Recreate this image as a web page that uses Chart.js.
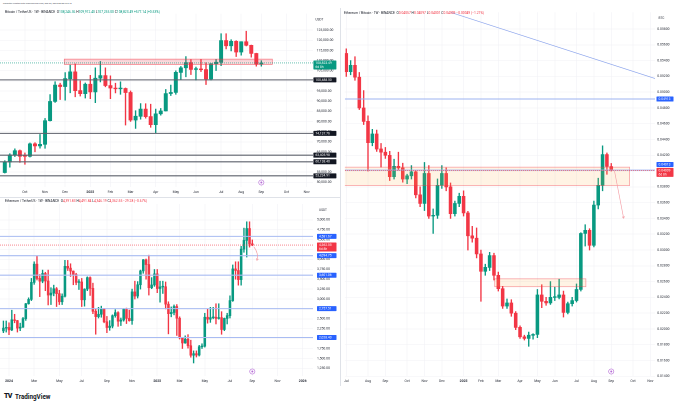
<!DOCTYPE html>
<html>
<head>
<meta charset="utf-8">
<script src="https://cdn.jsdelivr.net/npm/chart.js@4.4.1/dist/chart.umd.min.js"></script>
<style>
  body { margin: 0; width: 680px; height: 406px; overflow: hidden; position: relative; background: #fff; font-family: Roboto, "Liberation Sans", sans-serif; }
  canvas { position: absolute; }
  .t { position: absolute; white-space: nowrap; color: #131722; line-height: 1; }
  .g { color: #089981; }
  .r { color: #f23645; }
  .sep { position: absolute; background: #dfe2e8; }
</style>
</head>
<body>
<div class="t" style="left:3px;top:2.6px;font-size:2.3px;color:#4a4e59">Calighter created with TradingView.com, Sep 02, 2025 00:00 UTC+8</div>

<canvas id="btc" width="340" height="189" style="left:0;top:8px;width:340px;height:189px"></canvas>
<canvas id="eth" width="340" height="188" style="left:0;top:198px;width:340px;height:188px"></canvas>
<canvas id="ethbtc" width="339" height="378" style="left:341px;top:8px;width:339px;height:378px"></canvas>

<div class="sep" style="left:340px;top:8px;width:1px;height:378px"></div>
<div class="sep" style="left:0;top:197px;width:340px;height:1px"></div>

<div class="t" style="left:5px;top:11.4px;font-size:3.3px">Bitcoin / TetherUS · 1W · BINANCE &nbsp;O<span class="g">108,246.36</span> H<span class="g">109,912.40</span> L<span class="g">107,255.00</span> C<span class="g">108,823.49</span> <span class="g">+577.14 (+0.53%)</span></div>
<div class="t" style="left:5px;top:200.4px;font-size:3.3px">Ethereum / TetherUS · 1W · BINANCE &nbsp;O<span class="r">4,391.83</span> H<span class="r">4,491.84</span> L<span class="r">4,346.19</span> C<span class="r">4,362.55</span> <span class="r">−29.28 (−0.67%)</span></div>
<div class="t" style="left:344px;top:11.6px;font-size:3.3px">Ethereum / Bitcoin · 1W · BINANCE &nbsp;O<span class="r">0.04057</span> H<span class="r">0.04097</span> L<span class="r">0.04001</span> C<span class="r">0.04009</span> <span class="r">−0.00049 (−1.21%)</span></div>

<div class="t" style="left:4px;top:393px;font-size:7px;font-weight:900;letter-spacing:-0.6px">TV</div>
<div class="t" style="left:15px;top:393.5px;font-size:6.3px;font-weight:700">TradingView</div>

<script>
// ---- Bitcoin / TetherUS, weekly bars from 2024-09-09 ----
const btcStart = '2024-09-09';
const btcOpen  = [54840,59990,63580,65630,62860,62850,68970,67970,68740,80370,89850,97900,97180,101110,104460,95190,93720,98360,94540,101330,102620,97700,96460,96100,96260,94270,80730,82580,86080,82390,78430,83760,85170,93750,94280,104180,106450,109000,105640,105730,105540,100960,108380,109200,119840,117270,119450,114200,119290,117490,113490,108246.36];
const btcHigh  = [60670,64130,66500,66000,64480,69400,69520,73620,81500,93260,99590,98870,104090,107800,108350,99960,98980,102720,106420,109590,106450,102500,98830,99500,96500,95000,85310,88800,88750,88500,86100,86430,95760,97900,104970,107100,111980,110420,106800,110530,108950,108530,110530,123220,123240,120250,119790,119310,124470,117630,113640,109912.40];
const btcLow   = [54600,57490,62700,59830,58900,62460,65050,66850,66800,80220,89380,90790,90500,94150,92180,92500,91530,91200,89260,99500,97100,91230,94090,93390,78260,80000,76560,81140,81640,77150,74510,83100,85140,92800,93380,100720,102000,103100,100370,104600,98200,100360,105100,107500,115740,114720,112000,112650,117180,111680,107260,107255];
const btcClose = [59990,63580,65630,62860,62850,68970,67970,68740,80370,89850,97900,97180,101110,104460,95190,93720,98360,94540,101330,102620,97700,96460,96100,96260,94270,80730,82580,86080,82390,78430,83760,85170,93750,94280,104180,106450,109000,105640,105730,105540,100960,108380,109200,119840,117270,119450,114200,119290,117490,113490,108250,108823.49];
const btcPriceTicks = [50000,55000,60000,65000,70000,75000,80000,85000,90000,95000,100000,105000,110000,115000,120000,125000];
const btcLevels = [100488.50, 74137.76, 63405.98, 60138.40, 53234.91];

// ---- Ethereum / TetherUS, weekly bars from 2023-12-18 ----
const ethStart = '2023-12-18';
const ethOpen  = [2195,2265,2281,2220,2475,2455,2265,2290,2505,2880,2990,3420,3880,3520,3450,3645,3455,3100,3150,3260,3135,2930,3070,3825,3780,3705,3620,3420,3430,2980,3250,3540,3270,2690,2555,2615,2750,2425,2280,2315,2580,2655,2440,2470,2745,2510,2455,3180,3075,3360,3710,3990,3870,3285,3355,3635,3265,3305,3310,2870,2630,2660,2810,2515,2020,1890,1985,1820,1580,1620,1585,1795,1810,2540,2490,2530,2540,2510,2530,2230,2510,2580,2960,3760,3720,3490,4260,4480,4780,4391.83];
const ethHigh  = [2445,2445,2400,2717,2614,2460,2390,2535,2890,3030,3520,3940,4093,3620,3730,3675,3730,3285,3350,3290,3220,3130,3977,3975,3890,3710,3650,3490,3520,3260,3560,3560,3400,2750,2790,2820,2765,2560,2455,2600,2730,2680,2520,2760,2770,2720,3250,3450,3440,3730,4000,4010,4107,3540,3745,3745,3450,3450,3430,2930,2800,2850,2860,2550,2030,2070,2100,1960,1690,1690,1830,1870,2640,2740,2790,2790,2880,2880,2680,2520,2640,3080,3860,3940,3940,4330,4790,4950,4950,4491.84];
const ethLow   = [2150,2165,2100,2200,2400,2165,2200,2280,2460,2870,2960,3370,3480,3060,3410,3210,2850,2860,3080,2810,2860,2860,3050,3720,3570,3360,3360,3240,2810,2820,3210,3090,2630,2111,2520,2540,2400,2150,2210,2270,2540,2310,2330,2440,2380,2440,2360,3000,3025,3250,3650,3500,3100,3260,3320,3160,2920,3140,2750,2120,2550,2600,2080,1990,1750,1880,1760,1530,1385,1535,1560,1750,1785,2390,2410,2500,2370,2490,2110,2200,2370,2520,2940,3500,3350,3350,4180,4060,4310,4346.19];
const ethClose = [2265,2281,2220,2475,2455,2265,2290,2505,2880,2990,3420,3880,3520,3450,3645,3455,3100,3150,3260,3135,2930,3070,3825,3780,3705,3620,3420,3430,2980,3250,3540,3270,2690,2555,2615,2750,2425,2280,2315,2580,2655,2440,2470,2745,2510,2455,3180,3075,3360,3710,3990,3870,3285,3355,3635,3265,3305,3310,2870,2630,2660,2810,2515,2020,1890,1985,1820,1580,1620,1585,1795,1810,2540,2490,2530,2540,2510,2530,2230,2510,2580,2960,3760,3720,3490,4260,4480,4780,4392,4362.55];
const ethPriceTicks = [1250,1500,1750,2000,2250,2500,2750,3000,3250,3500,3750,4000,4250,4500,4750,5000];
const ethLevels = [4581.67, 4094.75, 3601.06, 2757.51, 2028.40];

// ---- Ethereum / Bitcoin, weekly bars from 2024-07-01 ----
const ratioStart = '2024-07-01';
const ratioOpen  = [0.0549,0.0526,0.0534,0.0519,0.0480,0.0463,0.0436,0.0447,0.0428,0.0424,0.0420,0.0393,0.0406,0.0404,0.0390,0.0394,0.0399,0.0370,0.0359,0.0397,0.0343,0.0344,0.0382,0.0397,0.0380,0.0346,0.0359,0.0368,0.0347,0.0318,0.0315,0.0295,0.0273,0.0278,0.0293,0.0268,0.0251,0.0229,0.0233,0.0220,0.0202,0.0190,0.0188,0.0192,0.0193,0.0243,0.0235,0.0233,0.0240,0.0240,0.0243,0.0221,0.0232,0.0236,0.0250,0.0321,0.0325,0.0306,0.0357,0.0382,0.0421,0.04057];
const ratioHigh  = [0.0555,0.0540,0.0545,0.0525,0.0502,0.0470,0.0453,0.0452,0.0435,0.0430,0.0425,0.0415,0.0424,0.0410,0.0396,0.0407,0.0400,0.0380,0.0411,0.0407,0.0352,0.0390,0.0407,0.0404,0.0385,0.0362,0.0372,0.0375,0.0349,0.0330,0.0328,0.0300,0.0282,0.0297,0.0296,0.0272,0.0254,0.0238,0.0237,0.0222,0.0204,0.0192,0.0196,0.0194,0.0250,0.0256,0.0240,0.0260,0.0253,0.0263,0.0248,0.0234,0.0240,0.0257,0.0322,0.0332,0.0327,0.0362,0.0391,0.0432,0.0423,0.04097];
const ratioLow   = [0.0520,0.0522,0.0515,0.0478,0.0459,0.0400,0.0432,0.0425,0.0405,0.0416,0.0388,0.0390,0.0401,0.0386,0.0384,0.0390,0.0366,0.0355,0.0350,0.0340,0.0321,0.0340,0.0378,0.0375,0.0340,0.0343,0.0355,0.0343,0.0300,0.0310,0.0290,0.0235,0.0268,0.0274,0.0262,0.0248,0.0226,0.0226,0.0216,0.0199,0.0188,0.0186,0.0178,0.0187,0.0189,0.0227,0.0230,0.0231,0.0236,0.0238,0.0215,0.0219,0.0229,0.0234,0.0248,0.0305,0.0300,0.0304,0.0352,0.0375,0.0396,0.04001];
const ratioClose = [0.0526,0.0534,0.0519,0.0480,0.0463,0.0436,0.0447,0.0428,0.0424,0.0420,0.0393,0.0406,0.0404,0.0390,0.0394,0.0399,0.0370,0.0359,0.0397,0.0343,0.0344,0.0382,0.0397,0.0380,0.0346,0.0359,0.0368,0.0347,0.0318,0.0315,0.0295,0.0273,0.0278,0.0293,0.0268,0.0251,0.0229,0.0233,0.0220,0.0202,0.0190,0.0188,0.0192,0.0193,0.0243,0.0235,0.0233,0.0240,0.0240,0.0243,0.0221,0.0232,0.0236,0.0250,0.0321,0.0325,0.0306,0.0357,0.0382,0.0421,0.0406,0.04009];
const ratioTicks = [0.014,0.016,0.018,0.020,0.022,0.024,0.026,0.028,0.030,0.032,0.034,0.036,0.038,0.040,0.042,0.044,0.046,0.048,0.050,0.052,0.054,0.056,0.058];
const ratioLevels = [0.04913, 0.04013];

const UP = '#089981', DOWN = '#f23645';
const GRID = '#f1f2f6', TXT = '#2a2e39', FONT = 'Roboto, "Liberation Sans", sans-serif';
const MONTHS = ['Jan','Feb','Mar','Apr','May','Jun','Jul','Aug','Sep','Oct','Nov','Dec'];

// month labels sit on the first weekly bar of a month
function monthTicks(start, min, max, every) {
  const t0 = Date.parse(start + 'T00:00:00Z');
  const out = [];
  for (let k = Math.ceil(min); k <= Math.floor(max); k++) {
    const d = new Date(t0 + k * 7 * 864e5);
    const p = new Date(t0 + (k - 1) * 7 * 864e5);
    const m = d.getUTCMonth();
    if (m !== p.getUTCMonth() && m % every === 0) {
      out.push({ value: k, label: m === 0 ? String(d.getUTCFullYear()) : MONTHS[m] });
    }
  }
  return out;
}

function candleSets(open, high, low, close, bodyW) {
  const col = close.map((c, i) => (c >= open[i] ? UP : DOWN));
  return [
    { data: high.map((h, i) => ({ x: i, y: [low[i], h] })), backgroundColor: col, barThickness: 0.7, grouped: false, order: 2 },
    { data: open.map((o, i) => ({ x: i, y: [o, close[i]] })), backgroundColor: col, barThickness: bodyW, grouped: false, minBarLength: 0.7, order: 1 }
  ];
}

function tag(ctx, x, y, w, bg, txt, sub) {
  const h = sub ? 9 : 5;
  ctx.fillStyle = bg;
  ctx.beginPath();
  ctx.roundRect(x, y - 2.5, w, h, 0.6);
  ctx.fill();
  ctx.fillStyle = '#fff';
  ctx.font = '3.3px ' + FONT;
  ctx.textAlign = 'left';
  ctx.textBaseline = 'middle';
  ctx.fillText(txt, x + 2, y + 0.1);
  if (sub) ctx.fillText(sub, x + 2, y + 4.3);
}

const overlay = {
  id: 'overlay',
  afterDatasetsDraw(chart, args, o) {
    const { ctx, chartArea: a } = chart;
    const X = v => chart.scales.x.getPixelForValue(v);
    const Y = v => chart.scales.y.getPixelForValue(v);
    ctx.save();
    ctx.beginPath();
    ctx.rect(a.left, a.top, a.right - a.left, a.bottom - a.top);
    ctx.clip();
    (o.zones || []).forEach(z => {
      const x1 = X(z.from), x2 = X(z.to), y1 = Y(z.top), y2 = Y(z.bottom);
      ctx.fillStyle = z.fill;
      ctx.fillRect(x1, y1, x2 - x1, y2 - y1);
      ctx.strokeStyle = z.stroke;
      ctx.lineWidth = 0.7;
      ctx.strokeRect(x1, y1, x2 - x1, y2 - y1);
    });
    (o.levels || []).forEach(l => {
      ctx.strokeStyle = o.levelColor;
      ctx.lineWidth = o.levelWidth;
      ctx.beginPath();
      ctx.moveTo(a.left, Y(l));
      ctx.lineTo(a.right, Y(l));
      ctx.stroke();
    });
    if (o.current) {
      ctx.strokeStyle = o.current.color;
      ctx.lineWidth = 0.6;
      ctx.setLineDash([1, 1]);
      ctx.beginPath();
      ctx.moveTo(a.left, Y(o.current.value));
      ctx.lineTo(a.right, Y(o.current.value));
      ctx.stroke();
      ctx.setLineDash([]);
    }
    (o.trends || []).forEach(t => {
      ctx.strokeStyle = '#8ea6ec';
      ctx.lineWidth = 0.7;
      ctx.beginPath();
      ctx.moveTo(X(t[0][0]), Y(t[0][1]));
      ctx.lineTo(X(t[1][0]), Y(t[1][1]));
      ctx.stroke();
    });
    (o.arrows || []).forEach(ar => {
      const p0 = [X(ar[0][0]), Y(ar[0][1])], p1 = [X(ar[1][0]), Y(ar[1][1])], p2 = [X(ar[2][0]), Y(ar[2][1])];
      ctx.strokeStyle = '#f49aa2';
      ctx.lineWidth = 0.6;
      ctx.beginPath();
      ctx.moveTo(p0[0], p0[1]);
      ctx.quadraticCurveTo(p1[0], p1[1], p2[0], p2[1]);
      ctx.stroke();
      const ang = Math.atan2(p2[1] - p1[1], p2[0] - p1[0]);
      ctx.beginPath();
      [-0.5, 0.5].forEach(d => {
        ctx.moveTo(p2[0], p2[1]);
        ctx.lineTo(p2[0] - 2.4 * Math.cos(ang + d), p2[1] - 2.4 * Math.sin(ang + d));
      });
      ctx.stroke();
    });
    if (o.marker !== undefined) {
      const mx = X(o.marker), my = a.bottom - 4.5;
      ctx.strokeStyle = '#b56ad6';
      ctx.fillStyle = '#fff';
      ctx.lineWidth = 0.6;
      ctx.beginPath();
      ctx.arc(mx, my, 2.6, 0, Math.PI * 2);
      ctx.fill();
      ctx.stroke();
      ctx.fillStyle = '#b56ad6';
      ctx.beginPath();
      ctx.arc(mx, my, 1, 0, Math.PI * 2);
      ctx.fill();
    }
    ctx.restore();

    // price tags on the axis
    ctx.save();
    const tx = a.right + o.tagX;
    (o.levels || []).forEach((l, i) => {
      tag(ctx, tx, Y(l) + (o.tagShift ? o.tagShift[i] : 0), o.tagW, o.tagBg, o.fmt(l));
    });
    if (o.current) tag(ctx, tx, Y(o.current.value), o.tagW, o.current.color, o.fmt(o.current.value), o.current.sub);
    ctx.fillStyle = TXT;
    ctx.font = '3.2px ' + FONT;
    ctx.textBaseline = 'middle';
    ctx.fillText(o.unit, a.right + o.tagX + 2, a.top + 6);
    ctx.restore();
  }
};

const money = v => v.toLocaleString('en-US', { minimumFractionDigits: 2, maximumFractionDigits: 2 });
const ratio = v => v.toFixed(5);

function makeChart(id, p) {
  return new Chart(document.getElementById(id), {
    type: 'bar',
    data: { datasets: candleSets(p.open, p.high, p.low, p.close, p.body) },
    options: {
      responsive: false,
      animation: false,
      events: [],
      devicePixelRatio: 2,
      layout: { padding: 0 },
      plugins: { legend: { display: false }, tooltip: { enabled: false }, overlay: p.overlay },
      scales: {
        x: {
          type: 'linear', min: p.xMin, max: p.xMax, offset: false,
          grid: { color: GRID, lineWidth: 0.6, drawTicks: false, offset: false },
          border: { display: false },
          afterFit: s => { s.height = 10; },
          afterBuildTicks: s => { s.ticks = p.months.map(m => ({ value: m.value })); },
          ticks: {
            autoSkip: false, maxRotation: 0, padding: 3, color: TXT,
            font: c => ({ family: FONT, size: 3.4, weight: c.tick && /^\d{4}$/.test(c.tick.label) ? 'bold' : 'normal' }),
            callback: (v, i) => (p.months[i] ? p.months[i].label : '')
          }
        },
        y: {
          position: 'right', min: p.yMin, max: p.yMax,
          grid: { color: GRID, lineWidth: 0.6, drawTicks: false },
          border: { display: false },
          afterFit: s => { s.width = p.axisW; },
          afterBuildTicks: s => { s.ticks = p.yTicks.map(v => ({ value: v })); },
          ticks: { padding: p.tickPad, color: TXT, font: { family: FONT, size: 3.4 }, callback: v => p.fmt(v) }
        }
      }
    },
    plugins: [overlay]
  });
}

const btcX = [-0.954, 61.27];
makeChart('btc', {
  open: btcOpen, high: btcHigh, low: btcLow, close: btcClose, body: 3.3,
  xMin: btcX[0], xMax: btcX[1], months: monthTicks(btcStart, btcX[0], btcX[1], 1),
  yMin: 47726, yMax: 133109, yTicks: btcPriceTicks, fmt: money, axisW: 27, tickPad: 3.6,
  overlay: {
    fmt: money, unit: 'USDT', tagX: 0.4, tagW: 23, tagBg: '#131722',
    levels: btcLevels, levelColor: '#5d606b', levelWidth: 1.1,
    zones: [{ from: 11.83, to: 53.18, top: 110700, bottom: 108100, fill: 'rgba(242,54,69,0.2)', stroke: 'rgba(242,54,69,0.65)' }],
    current: { value: btcClose[btcClose.length - 1], color: UP, sub: '6d 8h' },
    marker: btcClose.length - 1
  }
});

const ethX = [-1.22, 110.69];
makeChart('eth', {
  open: ethOpen, high: ethHigh, low: ethLow, close: ethClose, body: 1.9,
  xMin: ethX[0], xMax: ethX[1], months: monthTicks(ethStart, ethX[0], ethX[1], 2),
  yMin: 1056, yMax: 5398, yTicks: ethPriceTicks, fmt: money, axisW: 27, tickPad: 4,
  overlay: {
    fmt: money, unit: 'USDT', tagX: 4, tagW: 19.5, tagBg: '#2962ff',
    levels: ethLevels, levelColor: '#a9bcf2', levelWidth: 1.1,
    current: { value: ethClose[ethClose.length - 1], color: DOWN, sub: '6d 8h' },
    arrows: [[[89.5, 4320], [91.4, 4150], [90.6, 3970]]],
    marker: ethClose.length - 1
  }
});

const ratioX = [-0.32, 71.07];
makeChart('ethbtc', {
  open: ratioOpen, high: ratioHigh, low: ratioLow, close: ratioClose, body: 2.9,
  xMin: ratioX[0], xMax: ratioX[1], months: monthTicks(ratioStart, ratioX[0], ratioX[1], 1),
  yMin: 0.014037, yMax: 0.060129, yTicks: ratioTicks, fmt: ratio, axisW: 25, tickPad: 2.2,
  overlay: {
    fmt: ratio, unit: 'BTC', tagX: 1.5, tagW: 17, tagBg: '#2962ff',
    levels: ratioLevels, levelColor: '#9cb2f0', levelWidth: 1.0, tagShift: [0, -5.6],
    zones: [
      { from: -2, to: 65.23, top: 0.0405, bottom: 0.03817, fill: 'rgba(255,171,64,0.14)', stroke: 'rgba(242,54,69,0.5)' },
      { from: 34.17, to: 55.16, top: 0.02635, bottom: 0.02535, fill: 'rgba(255,171,64,0.14)', stroke: 'rgba(242,54,69,0.5)' }
    ],
    trends: [[[24.08, 0.0601], [71.5, 0.05165]]],
    current: { value: ratioClose[ratioClose.length - 1], color: DOWN, sub: '6d 8h' },
    arrows: [[[61.75, 0.0400], [62.8, 0.0370], [63.86, 0.0340]]],
    marker: ratioClose.length - 1
  }
});
</script>
</body>
</html>
